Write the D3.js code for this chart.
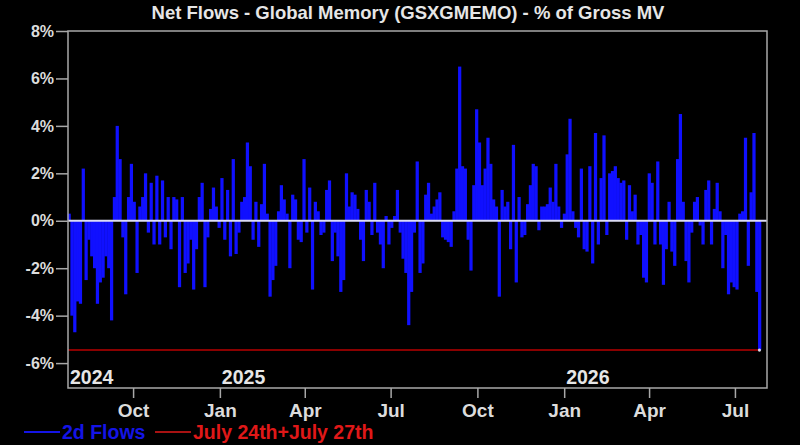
<!DOCTYPE html>
<html>
<head>
<meta charset="utf-8">
<script src="https://d3js.org/d3.v7.min.js"></script>
<style>
	html, body { margin: 0; padding: 0; background: #000; }
	svg { display: block; }
</style>
</head>
<body>
<script>

// 2d flows, one reading every 3 calendar days, ending July 27th 2026 (% of gross MV)
var flows = [
	0.3,-4.0,-4.7,-3.4,-3.5,2.2,-2.5,-0.8,-1.5,-2.0,
	-3.5,-2.6,-2.4,-1.5,-2.0,-4.2,1.0,4.0,2.6,-0.7,
	-3.1,1.0,2.4,0.8,-2.2,0.6,1.0,2.0,-0.5,1.6,
	-1.0,1.9,-1.0,1.7,-0.7,1.0,-1.2,1.0,0.9,-2.8,
	1.0,-2.2,-1.8,-0.8,-2.9,-1.2,1.0,1.6,-2.8,-0.7,
	0.5,1.4,0.6,-0.3,1.8,-0.8,1.3,-1.5,2.6,-1.4,
	-0.5,0.8,1.0,3.3,2.3,-0.8,0.8,-1.1,0.7,2.4,
	0.3,-3.2,-2.5,-1.9,0.4,
	1.5,0.9,0.3,-2.0,1.1,0.9,-0.8,-0.9,2.6,-0.5,
	1.4,-2.9,0.8,0.4,-0.6,-0.5,1.3,1.7,-1.7,-0.5,
	-1.5,-3.0,-2.5,2.0,0.6,1.2,1.1,0.5,-0.8,-1.7,
	1.3,0.8,-0.6,1.6,-0.5,-1.0,-2.0,0.2,-1.0,-0.3,
	0.2,1.3,-0.5,-1.6,-2.2,-4.4,-3.0,-0.5,2.5,-2.2,
	-1.8,1.1,1.6,0.3,0.6,0.9,1.2,-0.7,-0.8,-0.9,
	-1.1,0.4,2.2,6.5,2.3,2.2,-0.8,-2.1,1.5,4.7,
	3.3,1.5,2.2,3.5,2.4,0.9,0.6,-3.2,1.3,0.6,
	0.8,-1.2,3.2,-2.6,1.0,-0.7,-0.6,0.7,1.5,2.4,
	2.3,-0.4,0.6,0.6,0.7,1.4,0.8,2.4,0.6,-0.3,
	0.3,2.8,4.3,0.4,-0.3,-0.7,2.2,-1.2,-1.3,2.3,
	-1.8,3.7,-1.0,1.8,3.6,-0.6,2.0,2.1,2.3,1.8,
	1.6,1.7,-0.8,1.5,0.4,1.1,-1.0,-0.6,-2.4,-2.6,
	2.0,1.6,-1.0,2.5,-1.0,-2.7,-1.2,0.8,-1.3,-1.9,
	2.6,4.5,0.8,-1.7,-2.6,-0.5,0.8,1.0,-0.2,-1.0,
	1.3,1.7,-1.0,0.5,1.6,0.4,-2.0,-0.6,-3.1,-2.6,
	-2.8,-2.9,0.3,0.4,3.5,-1.9,1.2,3.7,-3.0,-5.45
];
var lastDay = new Date(2026, 6, 27);
var stepDays = 3;
var latest = -5.45;   // July 24th + July 27th

var yTicks = [8, 6, 4, 2, 0, -2, -4, -6];
var monthTicks = [new Date(2024, 9, 1), new Date(2025, 0, 1), new Date(2025, 3, 1), new Date(2025, 6, 1),
	new Date(2025, 9, 1), new Date(2026, 0, 1), new Date(2026, 3, 1), new Date(2026, 6, 1)];
var years = [
	{label: "2024", date: new Date(2024, 6, 24)},
	{label: "2025", date: new Date(2025, 0, 1)},
	{label: "2026", date: new Date(2026, 0, 1)}
];
var legendItems = [
	{label: "2d Flows", color: "#1414e6"},
	{label: "July 24th+July 27th", color: "#e01818"}
];

var w = 800;
var h = 445;
// plot box (note: "top" is taken by window.top, so prefix them)
var pLeft = 68, pRight = 767, pTop = 31, pBottom = 388;
var font = "'Liberation Sans', Arial, sans-serif";

var data = flows.map(function(v, i) {
	return {date: d3.timeDay.offset(lastDay, -stepDays * (flows.length - 1 - i)), value: v};
});

var x = d3.scaleTime()
	.domain([new Date(2024, 6, 24), new Date(2026, 7, 4)])
	.range([pLeft, pRight]);

var y = d3.scaleLinear()
	.domain([-7.05, 8])
	.range([pBottom, pTop]);

var svg = d3.select("body")
	.append("svg")
	.attr("width", w)
	.attr("height", h)
	.style("background", "#000");

// title
svg.append("text")
	.attr("x", 408)
	.attr("y", 19)
	.attr("text-anchor", "middle")
	.attr("font-family", font)
	.attr("font-weight", "bold")
	.attr("font-size", "18.5px")
	.attr("fill", "#e6e6e6")
	.text("Net Flows - Global Memory (GSXGMEMO) - % of Gross MV");

// bars (a touch wider than the step so neighbours close up like the original)
var barW = x(d3.timeDay.offset(lastDay, stepDays)) - x(lastDay);

svg.append("g")
	.selectAll("rect")
	.data(data)
	.enter()
	.append("rect")
	.attr("x", function(d) { return x(d.date) - barW / 2; })
	.attr("y", function(d) { return y(Math.max(0, d.value)); })
	.attr("width", barW + 0.4)
	.attr("height", function(d) { return Math.abs(y(d.value) - y(0)); })
	.attr("fill", "#1010ff");

// latest reading line
svg.append("line")
	.attr("x1", pLeft)
	.attr("x2", x(lastDay))
	.attr("y1", y(latest))
	.attr("y2", y(latest))
	.attr("stroke", "#b80000")
	.attr("stroke-width", 1.6);

svg.append("circle")
	.attr("cx", x(lastDay))
	.attr("cy", y(latest))
	.attr("r", 1.6)
	.attr("fill", "#d8d8e8");

// zero line
svg.append("line")
	.attr("x1", pLeft)
	.attr("x2", pRight)
	.attr("y1", y(0))
	.attr("y2", y(0))
	.attr("stroke", "#dcdcf4")
	.attr("stroke-width", 2);

// frame
svg.append("rect")
	.attr("x", pLeft)
	.attr("y", pTop)
	.attr("width", pRight - pLeft)
	.attr("height", pBottom - pTop)
	.attr("fill", "none")
	.attr("stroke", "#a8a8a8")
	.attr("stroke-width", 1.5);

// y axis
var yAxis = svg.append("g")
	.attr("transform", "translate(" + pLeft + ",0)")
	.call(d3.axisLeft(y)
		.tickValues(yTicks)
		.tickSize(12)
		.tickPadding(2)
		.tickFormat(function(d) { return d + "%"; }));

yAxis.select(".domain").remove();
yAxis.selectAll("line").attr("stroke", "#a8a8a8").attr("stroke-width", 1.5);
yAxis.selectAll("text")
	.attr("font-family", font)
	.attr("font-weight", "bold")
	.attr("font-size", "16px")
	.attr("fill", "#dcdcdc");

// x axis
var xAxis = svg.append("g")
	.attr("transform", "translate(0," + pBottom + ")")
	.call(d3.axisBottom(x)
		.tickValues(monthTicks)
		.tickSize(10)
		.tickPadding(6)
		.tickFormat(d3.timeFormat("%b")));

xAxis.select(".domain").remove();
xAxis.selectAll("line").attr("stroke", "#a8a8a8").attr("stroke-width", 1.5);
xAxis.selectAll("text")
	.attr("font-family", font)
	.attr("font-weight", "bold")
	.attr("font-size", "19px")
	.attr("fill", "#dcdcdc");

// year labels inside the plot
svg.selectAll(".year")
	.data(years)
	.enter()
	.append("text")
	.attr("class", "year")
	.attr("x", function(d) { return x(d.date) + 2; })
	.attr("y", 384)
	.attr("font-family", font)
	.attr("font-weight", "bold")
	.attr("font-size", "19.5px")
	.attr("fill", "#e6e6e6")
	.text(function(d) { return d.label; });

// legend
var lx = [24, 155];
var legend = svg.selectAll(".legend")
	.data(legendItems)
	.enter()
	.append("g")
	.attr("class", "legend")
	.attr("transform", function(d, i) { return "translate(" + lx[i] + ",432)"; });

legend.append("line")
	.attr("x1", 0)
	.attr("x2", 36)
	.attr("stroke", function(d) { return d.color; })
	.attr("stroke-width", function(d, i) { return i == 0 ? 2.2 : 1.6; });

legend.append("text")
	.attr("x", 38)
	.attr("y", 7)
	.attr("font-family", font)
	.attr("font-weight", "bold")
	.attr("font-size", "19.5px")
	.attr("fill", function(d) { return d.color; })
	.text(function(d) { return d.label; });

</script>
</body>
</html>
